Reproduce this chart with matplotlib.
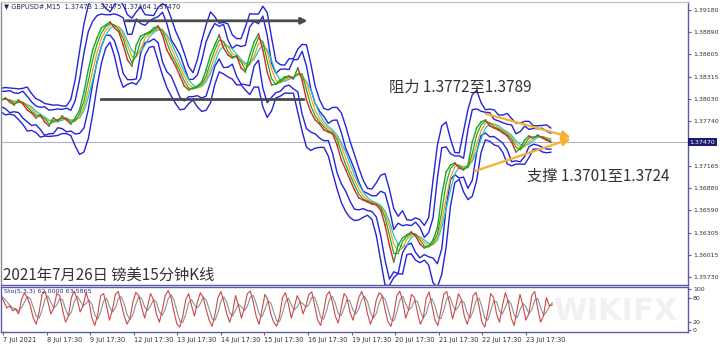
import matplotlib
matplotlib.use("Agg")
import matplotlib.pyplot as plt
import pandas as pd

close = [1.38017, 1.38043, 1.37991, 1.37953, 1.38017, 1.37966, 1.37888, 1.37849, 1.37785, 1.37823,
         1.37733, 1.37681, 1.37785, 1.37746, 1.37810, 1.37759, 1.37707, 1.37785, 1.37888, 1.38121,
         1.38405, 1.38663, 1.38818, 1.38947, 1.38986, 1.39025, 1.38947, 1.38896, 1.38728, 1.38534,
         1.38457, 1.38728, 1.38844, 1.38870, 1.38896, 1.38947, 1.38973, 1.38857, 1.38663, 1.38560,
         1.38457, 1.38327, 1.38198, 1.38146, 1.38172, 1.38198, 1.38250, 1.38405, 1.38599, 1.38728,
         1.38857, 1.38689, 1.38599, 1.38560, 1.38586, 1.38431, 1.38379, 1.38599, 1.38767, 1.38870,
         1.38663, 1.38379, 1.38211, 1.38224, 1.38276, 1.38314, 1.38327, 1.38289, 1.38431, 1.38276,
         1.38017, 1.37862, 1.37759, 1.37707, 1.37630, 1.37604, 1.37578, 1.37436, 1.37242, 1.37113,
         1.36984, 1.36854, 1.36751, 1.36725, 1.36699, 1.36674, 1.36661, 1.36596, 1.36402, 1.36144,
         1.35924, 1.36144, 1.36234, 1.36273, 1.36312, 1.36260, 1.36157, 1.36105, 1.36131, 1.36208,
         1.36363, 1.36790, 1.37087, 1.37177, 1.37203, 1.37139, 1.37113, 1.37177, 1.37475, 1.37655,
         1.37733, 1.37759, 1.37681, 1.37655, 1.37630, 1.37591, 1.37552, 1.37475, 1.37345, 1.37397,
         1.37500, 1.37552, 1.37526, 1.37565, 1.37526, 1.37500, 1.37470]

# Stochastic %K main line
stoch_k = [85, 70, 55, 60, 48, 52, 40, 75, 92, 80, 60, 30, 15, 45, 88, 95, 70, 40, 55, 90,
           85, 50, 20, 35, 80, 96, 75, 45, 60, 92, 70, 30, 12, 40, 85, 90, 60, 25, 50, 88,
           95, 65, 35, 15, 30, 70, 93, 85, 55, 30, 60, 90, 75, 40, 20, 50, 85, 97, 80, 45,
           15, 8, 35, 75, 90, 60, 35, 70, 92, 80, 50, 25, 10, 40, 80, 95, 70, 40, 20, 45,
           85, 60, 30, 55, 90, 96, 70, 35, 15, 50, 88, 75, 40, 20, 10, 35, 80, 92, 65, 30,
           55, 85, 70, 40, 60, 88, 94, 60, 25, 12, 45, 85, 95, 70, 35, 18, 55, 90, 80, 45,
           25, 50, 80, 95, 75, 40, 15, 35, 75, 92, 85, 50, 20, 10, 40, 85, 96, 70, 30, 50,
           88, 80, 45, 15, 30, 78, 94, 60, 25, 12, 48, 88, 95, 65, 28, 55, 90, 75, 35, 15,
           40, 85, 93, 60, 20, 8, 45, 90, 80, 40, 20, 60, 92, 70, 30, 12, 50, 88, 60, 25,
           40, 85, 95, 55, 20, 35, 80, 60, 62]

price_ticks = [1.39180, 1.38890, 1.38605, 1.38315, 1.38030, 1.37740,
               1.37165, 1.36880, 1.36590, 1.36305, 1.36015, 1.35730]
last_price = 1.37470
date_labels = ["7 Jul 2021", "8 Jul 17:30", "9 Jul 17:30", "12 Jul 17:30", "13 Jul 17:30",
               "14 Jul 17:30", "15 Jul 17:30", "16 Jul 17:30", "19 Jul 17:30", "20 Jul 17:30",
               "21 Jul 17:30", "22 Jul 17:30", "23 Jul 17:30"]

# range lines (left day, right day, price) and the triangle
range_top = (2.79, 7.09, 1.39040)
range_bottom = (2.29, 6.93, 1.38030)
tri_upper = (11.05, 1.37849)
tri_lower = (10.80, 1.37087)
tri_tip = (13.11, 1.37526)

cjk = ['Noto Sans CJK SC', 'DejaVu Sans']
frame_col = '#5a5aa8'
text_col = '#333333'

s = pd.Series(close)
days = [i * 0.1 for i in range(len(close))]
t_k = [i * len(close) * 0.1 / len(stoch_k) for i in range(len(stoch_k))]
k = pd.Series(stoch_k)
d = k.rolling(3, min_periods=1).mean()

fig = plt.figure(figsize=(7.2, 3.45), dpi=100)
ax = fig.add_axes([0.0014, 0.1739, 0.9542, 0.8203])
ax2 = fig.add_axes([0.0014, 0.0377, 0.9542, 0.1304])

xmax = 688 / 43.7

# bollinger-style bands (blue)
m3 = s.rolling(3, center=True, min_periods=1).mean()
sd3 = s.rolling(3, center=True, min_periods=2).std().bfill().ffill()
m5 = s.rolling(5, center=True, min_periods=1).mean()
sd5 = s.rolling(5, center=True, min_periods=2).std().bfill().ffill()
for band in (m3 + 1.6 * sd3 + 0.0007, m3 - 1.6 * sd3 - 0.0007,
             m5 + 2.0 * sd5 + 0.0010, m5 - 2.0 * sd5 - 0.0010):
    ax.plot(days, band, color='#2424d8', lw=1.0)

# moving averages and close
ax.plot(days, s.rolling(4, min_periods=1).mean(), color='#22c4c4', lw=0.9)
ax.plot(days, s.rolling(3, min_periods=1).mean(), color='#f0a020', lw=0.9)
ax.plot(days, s.rolling(2, min_periods=1).mean(), color='#22aa22', lw=0.9)
for i in range(1, len(close)):
    c = '#d42a2a' if close[i] < close[i - 1] else '#2aa02a'
    ax.plot(days[i - 1:i + 1], close[i - 1:i + 1], color=c, lw=1.0)

# current price line
ax.axhline(last_price, color='#b4b4c8', lw=0.8, zorder=0)

# range lines
ax.annotate('', xy=(range_top[1], range_top[2]), xytext=(range_top[0], range_top[2]),
            arrowprops=dict(arrowstyle='-|>', color='#4a4a4a', lw=2, mutation_scale=9))
ax.plot([range_bottom[0], range_bottom[1]], [range_bottom[2]] * 2, color='#4a4a4a', lw=2)

# triangle
for start in (tri_upper, tri_lower):
    ax.annotate('', xy=tri_tip, xytext=start,
                arrowprops=dict(arrowstyle='-|>', color='#f5b030', lw=1.6, mutation_scale=12))

ax.text(8.88, 1.38175, '阻力 1.3772至1.3789', fontsize=11, color=text_col, family=cjk,
        va='center')
ax.text(12.06, 1.37030, '支撑 1.3701至1.3724', fontsize=11, color=text_col, family=cjk,
        va='center')
ax.text(0.003, 0.035, '2021年7月26日 镑美15分钟K线', transform=ax.transAxes, fontsize=11,
        color=text_col, family=cjk, va='center')
ax.text(0.004, 0.982, '▼ GBPUSD#,M15  1.37473 1.37475 1.37464 1.37470', transform=ax.transAxes,
        fontsize=4.8, color='#24245a', va='center')

ax.set_xlim(0, xmax)
ax.set_ylim(1.35627, 1.39283)
ax.set_xticks([])
ax.yaxis.tick_right()
ax.set_yticks(price_ticks)
ax.set_yticklabels(['%.5f' % p for p in price_ticks])
ax.tick_params(axis='y', labelsize=4.5, labelcolor=text_col, color=frame_col, length=2, pad=1.5)
ax.text(1.002, (last_price - 1.35627) / (1.39283 - 1.35627), '%.5f' % last_price,
        transform=ax.transAxes, fontsize=4.5, color='white', va='center', ha='left',
        bbox=dict(boxstyle='square,pad=0.25', fc='#1c1c78', ec='none'))
for sp in ax.spines.values():
    sp.set_color(frame_col)
    sp.set_linewidth(1.0)
ax.spines['top'].set_color('#c8c8c8')
ax.spines['left'].set_color('#8a8a8a')

# stochastic panel
ax2.text(0.985, 0.45, 'WIKIFX', transform=ax2.transAxes, fontsize=22, color='#f1f1f1',
         ha='right', va='center', fontweight='bold', zorder=0)
ax2.plot(t_k, d, color='#8c9098', lw=0.8)
ax2.plot(t_k, k, color='#cc4848', lw=0.8)
ax2.set_xlim(0, xmax)
ax2.set_ylim(-4, 106)
ax2.yaxis.tick_right()
ax2.set_yticks([100, 80, 20, 0])
ax2.set_yticklabels(['100', '80', '20', '0'])
ax2.tick_params(axis='y', labelsize=4.5, labelcolor=text_col, color=frame_col, length=2, pad=1.5)
ticks_x = [0.05 + 0.998 * i for i in range(len(date_labels))]
ax2.set_xticks(ticks_x)
ax2.set_xticklabels(date_labels, ha='left')
ax2.tick_params(axis='x', labelsize=4.8, labelcolor=text_col, color='#666666', length=2, pad=1.5)
for sp in ax2.spines.values():
    sp.set_color(frame_col)
    sp.set_linewidth(1.0)
ax2.text(0.005, 0.9, 'Sto(5,3,3) 62.0000 63.5865', transform=ax2.transAxes, fontsize=4.6,
         color='#2c2c8a', va='center')

fig.savefig('out.png', dpi=100)
